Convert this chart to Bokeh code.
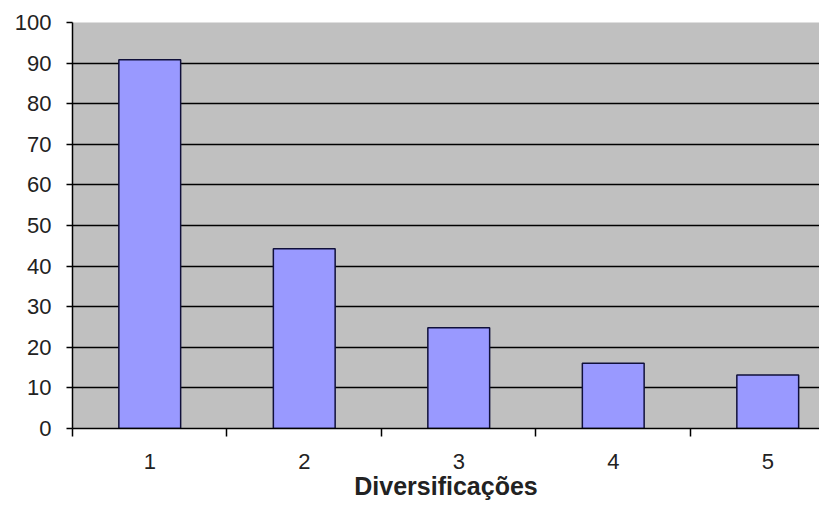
from bokeh.plotting import figure
from bokeh.models import FixedTicker, ColumnDataSource
from bokeh.embed import file_html
from bokeh.resources import INLINE

categories = ["1", "2", "3", "4", "5"]
positions = [1, 2, 3, 4, 5]
values = [90.8, 44.3, 24.8, 16.1, 13.2]
y_ticks = [0, 10, 20, 30, 40, 50, 60, 70, 80, 90, 100]
x_title = "Diversificações"

src = ColumnDataSource(data=dict(x=positions, top=values))

p = figure(width=819, height=502, output_backend="svg", toolbar_location=None,
           x_range=(0.5, 5.335), y_range=(0, 100),
           min_border_left=72, min_border_right=0, min_border_top=22, min_border_bottom=72)

p.background_fill_color = "#C0C0C0"
p.border_fill_color = "white"
p.outline_line_color = None

p.vbar(x="x", top="top", bottom=0, width=0.4, source=src,
       fill_color="#9999FF", line_color="#10103a", line_width=1.5)

# y axis
p.yaxis.ticker = FixedTicker(ticks=y_ticks)
p.yaxis.major_tick_out = 6
p.yaxis.major_tick_in = 0
p.yaxis.minor_tick_line_color = None
p.yaxis.axis_line_color = "black"
p.yaxis.axis_line_width = 1.5
p.yaxis.major_tick_line_width = 1.5
p.yaxis.major_label_standoff = 15
p.yaxis.major_label_text_font = "Liberation Sans"
p.yaxis.major_label_text_font_size = "22px"
p.yaxis.major_label_text_color = "#222222"

# x axis
p.xaxis.ticker = FixedTicker(ticks=positions, minor_ticks=[0.5, 1.5, 2.5, 3.5, 4.5, 5.5])
p.xaxis.major_label_overrides = {pos: lab for pos, lab in zip(positions, categories)}
p.xaxis.major_tick_out = 0
p.xaxis.major_tick_in = 0
p.xaxis.minor_tick_out = 8
p.xaxis.minor_tick_in = 0
p.xaxis.minor_tick_line_color = "black"
p.xaxis.minor_tick_line_width = 1.5
p.xaxis.axis_line_color = "black"
p.xaxis.axis_line_width = 1.5
p.xaxis.major_label_standoff = 17
p.xaxis.major_label_text_font = "Liberation Sans"
p.xaxis.major_label_text_font_size = "22px"
p.xaxis.major_label_text_color = "#222222"
p.xaxis.axis_label = x_title
p.xaxis.axis_label_text_font = "Liberation Sans"
p.xaxis.axis_label_text_font_style = "bold"
p.xaxis.axis_label_text_font_size = "25px"
p.xaxis.axis_label_text_color = "#222222"
p.xaxis.axis_label_standoff = 0

# grids
p.xgrid.grid_line_color = None
p.ygrid.ticker = FixedTicker(ticks=y_ticks)
p.ygrid.grid_line_color = "black"
p.ygrid.grid_line_width = 1.5

open("out.html", "w").write(file_html(p, INLINE))
